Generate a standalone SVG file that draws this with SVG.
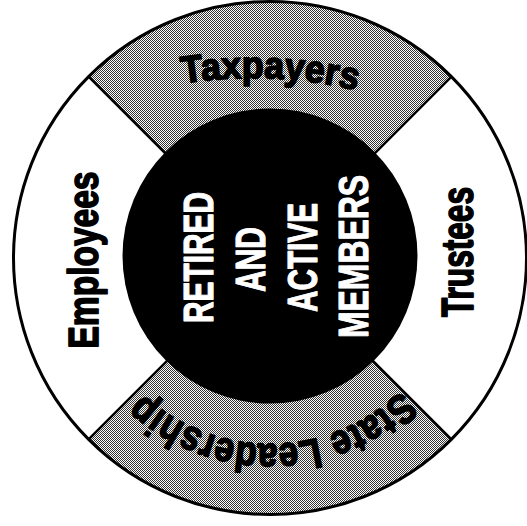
<svg xmlns="http://www.w3.org/2000/svg" width="527" height="526" viewBox="0 0 527 526">
  <defs>
    <!-- halftone fill for the shaded ring segments -->
    <pattern id="dither" width="2" height="2" patternUnits="userSpaceOnUse">
      <rect width="2" height="2" fill="#ffffff"/>
      <rect width="1" height="1" fill="#333333"/>
      <rect x="1" y="1" width="1" height="1" fill="#333333"/>
    </pattern>
    <!-- baselines for the curved ring labels -->
    <path id="arcTop" d="M120,97.8 A450,450 0 0 1 420,110.5"/>
    <path id="arcBottom" d="M457,257 A187,187 0 0 1 83,257"/>
    <style>
      .lbl { font-family: "Liberation Sans", "DejaVu Sans", Arial, sans-serif; font-weight: 700; fill: #000; stroke: #000; stroke-width: 1.7; stroke-linejoin: round; }
      .core { font-family: "Liberation Sans", "DejaVu Sans", Arial, sans-serif; font-weight: 700; font-size: 43px; fill: #fff; stroke: #fff; stroke-width: 1.1; stroke-linejoin: round; text-anchor: middle; }
      .seg-shaded { fill: url(#dither); }
      .divider { stroke: #000; stroke-width: 2.5; fill: none; }
    </style>
  </defs>

  <!-- ring base -->
  <circle cx="270" cy="258" r="257" fill="#ffffff"/>

  <!-- shaded segments -->
  <g id="taxpayers">
    <path class="seg-shaded" d="M270,258 L88.3,76.3 A257,257 0 0 1 451.7,76.3 Z"/>
    <text class="lbl" font-size="38" text-anchor="middle"><textPath href="#arcTop" startOffset="152" textLength="175" lengthAdjust="spacingAndGlyphs">Taxpayers</textPath></text>
  </g>

  <g id="state-leadership">
    <path class="seg-shaded" d="M270,258 L451.7,439.7 A257,257 0 0 1 88.3,439.7 Z"/>
    <text class="lbl" font-size="42" text-anchor="middle"><textPath href="#arcBottom" startOffset="291" textLength="285" lengthAdjust="spacingAndGlyphs">State Leadership</textPath></text>
  </g>

  <g id="employees">
    <text class="lbl" font-size="42" text-anchor="middle" transform="translate(98,260) rotate(-90)" textLength="177" lengthAdjust="spacingAndGlyphs">Employees</text>
  </g>

  <g id="trustees">
    <text class="lbl" font-size="45" text-anchor="middle" transform="translate(473,252) rotate(-90)" textLength="130" lengthAdjust="spacingAndGlyphs">Trustees</text>
  </g>

  <!-- segment dividers -->
  <g id="connectors">
    <line class="divider" x1="88.3" y1="76.3" x2="451.7" y2="439.7"/>
    <line class="divider" x1="451.7" y1="76.3" x2="88.3" y2="439.7"/>
  </g>

  <!-- hub -->
  <g id="members">
    <circle cx="270" cy="256" r="147.5" fill="#000000"/>
    <text class="core" transform="translate(213,257.5) rotate(-90)" textLength="131" lengthAdjust="spacingAndGlyphs">RETIRED</text>
    <text class="core" transform="translate(265,259.5) rotate(-90)" textLength="65" lengthAdjust="spacingAndGlyphs">AND</text>
    <text class="core" transform="translate(317,257.5) rotate(-90)" textLength="109" lengthAdjust="spacingAndGlyphs">ACTIVE</text>
    <text class="core" transform="translate(368,256.5) rotate(-90)" textLength="163" lengthAdjust="spacingAndGlyphs">MEMBERS</text>
  </g>

  <!-- outer rim -->
  <circle cx="270" cy="258" r="256.5" fill="none" stroke="#000" stroke-width="3"/>
</svg>
